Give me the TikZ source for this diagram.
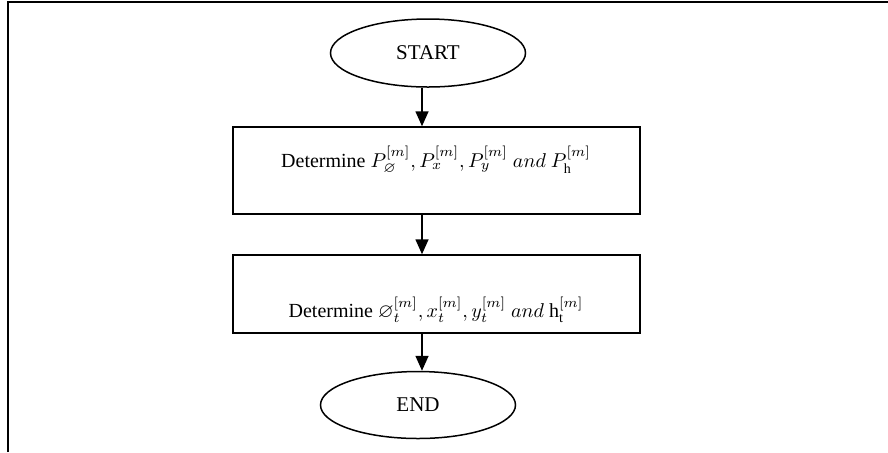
\documentclass[tikz,border=0pt]{standalone}
\usepackage{amssymb}
\usepackage{fontspec}
\setmainfont{Liberation Serif}
\usetikzlibrary{shapes.geometric,arrows.meta}
\begin{document}
\begin{tikzpicture}[x=0.5pt,y=-0.5pt,
  frameline/.style={line width=1pt,black},
  term/.style={draw,ellipse,line width=0.75pt,minimum width=97.5pt,minimum height=34pt,inner sep=0pt,font=\fontsize{10.5}{12}\selectfont},
  procbox/.style={draw,rectangle,line width=0.75pt,inner sep=0pt,minimum width=203.5pt},
  boxtext/.style={inner sep=0pt,font=\fontsize{10}{12}\selectfont},
  arr/.style={line width=0.8pt,-{Triangle[length=7.5pt,width=6.5pt]}}]
\useasboundingbox (0,0) rectangle (888,452);
% frame
\coordinate (fr1) at (8,452);
\coordinate (fr2) at (8,2);
\coordinate (fr3) at (888,2);
\draw[frameline] (fr1) -- (fr2) -- (fr3);
% nodes
\node[term] (start) at (428,53) {START};
\node[procbox,minimum height=43.5pt] (box1) at (436.5,170.5) {};
\node[boxtext] (t1) at (436,160) {Determine $P_{\varnothing}^{[m]}, P_x^{[m]}, P_y^{[m]}$ $and$ $P_{\mathrm{h}}^{[m]}$};
\node[procbox,minimum height=39pt] (box2) at (436.5,294) {};
\node[boxtext] (t2) at (436,310) {Determine $\varnothing_t^{[m]}, x_t^{[m]}, y_t^{[m]}$ $and$ $\mathrm{h}_{\mathrm{t}}^{[m]}$};
\node[term,minimum height=33.5pt] (end) at (418,405) {END};
% connectors
\coordinate (ax) at (422,0);
\draw[arr] (start.south -| ax) -- (box1.north -| ax);
\draw[arr] (box1.south -| ax) -- (box2.north -| ax);
\draw[arr] (box2.south -| ax) -- (end.north -| ax);
\end{tikzpicture}
\end{document}
